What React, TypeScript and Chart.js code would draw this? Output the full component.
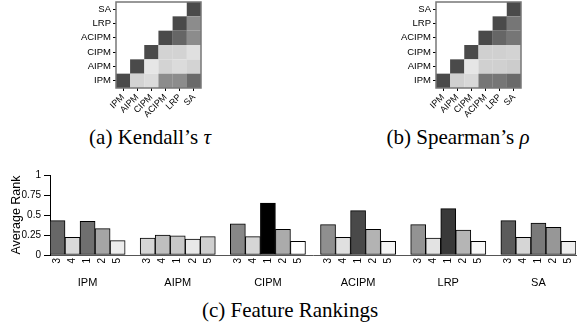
import React, { useEffect, useRef } from "react";
import { Chart, registerables } from "chart.js";
Chart.register(...registerables);

const SANS = "'Liberation Sans', Arial, Helvetica, sans-serif";
const SERIF = "'Liberation Serif', 'Times New Roman', serif";

// ---- Heatmap data (correlation between methods, upper triangle) ----
const methods = ["IPM", "AIPM", "CIPM", "ACIPM", "LRP", "SA"];
// row i holds values for columns i..5
const kendallIPM = [1, 0.13, 0.08, 0.58, 0.58, 0.8];
const kendallAIPM = [1, 0.01, 0.13, 0.08, 0.13];
const kendallCIPM = [1, 0.13, 0.13, 0.05];
const kendallACIPM = [1, 0.82, 0.58];
const kendallLRP = [1, 0.58];
const kendallSA = [1];

const spearmanIPM = [1, 0.15, 0.1, 0.72, 0.72, 0.8];
const spearmanAIPM = [1, 0.01, 0.15, 0.15, 0.18];
const spearmanCIPM = [1, 0.15, 0.15, 0.13];
const spearmanACIPM = [1, 0.82, 0.72];
const spearmanLRP = [1, 0.72];
const spearmanSA = [1];

// ---- Feature ranking data ----
const featureOrder = ["3", "4", "1", "2", "5"];
const rankIPM = [0.43, 0.22, 0.42, 0.33, 0.18];
const rankAIPM = [0.21, 0.25, 0.24, 0.2, 0.23];
const rankCIPM = [0.39, 0.23, 0.65, 0.32, 0.17];
const rankACIPM = [0.38, 0.22, 0.555, 0.32, 0.17];
const rankLRP = [0.38, 0.21, 0.58, 0.31, 0.17];
const rankSA = [0.43, 0.22, 0.4, 0.345, 0.17];
const yTicks = [0, 0.25, 0.5, 0.75, 1];

// bar fill colours (styles)
const colorIPM = ["#676767", "#d9d9d9", "#6f6f6f", "#a5a5a5", "#ececec"];
const colorAIPM = ["#d6d6d6", "#bfbfbf", "#c8c8c8", "#e8e8e8", "#cfcfcf"];
const colorCIPM = ["#878787", "#d6d6d6", "#000000", "#ababab", "#ffffff"];
const colorACIPM = ["#8f8f8f", "#e0e0e0", "#494949", "#b3b3b3", "#f5f5f5"];
const colorLRP = ["#939393", "#e3e3e3", "#393939", "#b5b5b5", "#f8f8f8"];
const colorSA = ["#5b5b5b", "#d6d6d6", "#7a7a7a", "#979797", "#eeeeee"];

const toGray = (v: number) => {
  const g = Math.round(232 - 158 * v);
  return `rgb(${g},${g},${g})`;
};

const framePlugin = {
  id: "frame",
  afterDatasetsDraw(chart: any) {
    const { ctx, chartArea: a } = chart;
    ctx.save();
    ctx.strokeStyle = "#777";
    ctx.lineWidth = 1.5;
    ctx.strokeRect(a.left, a.top, a.right - a.left, a.bottom - a.top);
    ctx.restore();
  },
};

function Heatmap({ rows, left }: { rows: number[][]; left: number }) {
  const ref = useRef<HTMLCanvasElement>(null);
  useEffect(() => {
    const datasets = rows.map((vals, r) => ({
      data: methods.map((_, c) => (c >= r ? [r, r + 1] : null)),
      backgroundColor: methods.map((_, c) => (c >= r ? toGray(vals[c - r]) : "rgba(0,0,0,0)")),
      borderWidth: 0,
      grouped: false,
      categoryPercentage: 1,
      barPercentage: 1.01,
    }));
    const chart = new Chart(ref.current!, {
      type: "bar",
      data: { labels: methods, datasets: datasets as any },
      plugins: [framePlugin],
      options: {
        animation: false,
        responsive: false,
        events: [],
        layout: { padding: { top: 12, right: 10, left: 0, bottom: 0 } },
        plugins: { legend: { display: false }, tooltip: { enabled: false } },
        scales: {
          x: {
            type: "category",
            offset: true,
            grid: { display: true, drawOnChartArea: false, offset: false, tickLength: 3, color: "#000" },
            border: { display: false },
            ticks: {
              autoSkip: false,
              minRotation: 45,
              maxRotation: 45,
              padding: 1,
              color: "#000",
              font: { family: SANS, size: 9 },
            },
            afterFit: (s: any) => {
              s.height = 37;
            },
          },
          y: {
            type: "linear",
            min: 0,
            max: 6,
            afterBuildTicks: (s: any) => {
              s.ticks = methods.map((_, i) => ({ value: i + 0.5 }));
            },
            ticks: {
              callback: (v: any) => methods[Math.floor(Number(v))],
              padding: 2,
              color: "#000",
              font: { family: SANS, size: 9.5 },
            },
            grid: { drawOnChartArea: false, tickLength: 3, color: "#000" },
            border: { display: false },
            afterFit: (s: any) => {
              s.width = 60;
            },
          },
        },
      } as any,
    });
    return () => chart.destroy();
  }, []);
  return (
    <canvas ref={ref} width={155} height={135} style={{ position: "absolute", left, top: -10 }} />
  );
}

function Rankings() {
  const ref = useRef<HTMLCanvasElement>(null);
  useEffect(() => {
    const groupValues = [rankIPM, rankAIPM, rankCIPM, rankACIPM, rankLRP, rankSA];
    const groupColors = [colorIPM, colorAIPM, colorCIPM, colorACIPM, colorLRP, colorSA];
    const slotLabels: string[] = [];
    const slotGroup: string[] = [];
    const slotValues: (number | null)[] = [];
    const slotColors: string[] = [];
    methods.forEach((g, k) => {
      featureOrder.forEach((f, i) => {
        slotLabels.push(f);
        slotGroup.push(i === 2 ? g : "");
        slotValues.push(groupValues[k][i]);
        slotColors.push(groupColors[k][i]);
      });
      if (k < methods.length - 1) {
        slotLabels.push("");
        slotGroup.push("");
        slotValues.push(null);
        slotColors.push("rgba(0,0,0,0)");
      }
    });
    const chart = new Chart(ref.current!, {
      type: "bar",
      data: {
        labels: slotLabels,
        datasets: [
          {
            data: slotValues,
            backgroundColor: slotColors,
            borderColor: "#000",
            borderWidth: 1,
            borderSkipped: false,
            categoryPercentage: 1,
            barPercentage: 1,
          } as any,
        ],
      },
      options: {
        animation: false,
        responsive: false,
        events: [],
        layout: { padding: { top: 15, right: 24, left: 0, bottom: 0 } },
        plugins: { legend: { display: false }, tooltip: { enabled: false } },
        scales: {
          x: {
            type: "category",
            labels: slotLabels,
            offset: true,
            grid: { display: false, drawTicks: false },
            border: { display: true, color: "#555", width: 1 },
            ticks: {
              autoSkip: false,
              minRotation: 90,
              maxRotation: 90,
              padding: 3,
              color: "#000",
              font: { family: SANS, size: 10 },
            },
            afterFit: (s: any) => {
              s.height = 14;
            },
          },
          x2: {
            type: "category",
            labels: slotGroup,
            position: "bottom",
            weight: 1,
            offset: true,
            grid: { display: false, drawTicks: false },
            border: { display: false },
            ticks: {
              autoSkip: false,
              minRotation: 0,
              maxRotation: 0,
              padding: 7,
              color: "#000",
              font: { family: SANS, size: 11 },
            },
            afterFit: (s: any) => {
              s.height = 26;
            },
          },
          y: {
            min: 0,
            max: 1,
            afterBuildTicks: (s: any) => {
              s.ticks = yTicks.map((v) => ({ value: v }));
            },
            ticks: {
              callback: (v: any) => String(v),
              padding: 3,
              color: "#000",
              font: { family: SANS, size: 10 },
            },
            grid: { drawOnChartArea: false, tickLength: 6, color: "#000" },
            border: { color: "#000", width: 1 },
            title: {
              display: true,
              text: "Average Rank",
              color: "#000",
              font: { family: SANS, size: 12.5 },
              padding: { top: 9, bottom: 0 },
            },
            afterFit: (s: any) => {
              s.width = 50;
            },
          },
        },
      } as any,
    });
    return () => chart.destroy();
  }, []);
  return (
    <canvas ref={ref} width={600} height={135} style={{ position: "absolute", left: 0, top: 160 }} />
  );
}

const captionStyle: React.CSSProperties = {
  position: "absolute",
  fontFamily: SERIF,
  fontSize: 21,
  lineHeight: "21px",
  color: "#000",
  whiteSpace: "nowrap",
  transform: "translateX(-50%)",
};

export default function App() {
  return (
    <div
      style={{
        position: "absolute",
        left: 0,
        top: 0,
        width: 577,
        height: 328,
        overflow: "hidden",
        background: "#fff",
      }}
    >
      <Heatmap
        rows={[kendallIPM, kendallAIPM, kendallCIPM, kendallACIPM, kendallLRP, kendallSA]}
        left={56}
      />
      <Heatmap
        rows={[spearmanIPM, spearmanAIPM, spearmanCIPM, spearmanACIPM, spearmanLRP, spearmanSA]}
        left={376}
      />
      <Rankings />
      <div style={{ ...captionStyle, left: 150, top: 127 }}>
        (a) Kendall’s <i>τ</i>
      </div>
      <div style={{ ...captionStyle, left: 458, top: 127 }}>
        (b) Spearman’s <i>ρ</i>
      </div>
      <div style={{ ...captionStyle, left: 290, top: 300 }}>(c) Feature Rankings</div>
    </div>
  );
}
